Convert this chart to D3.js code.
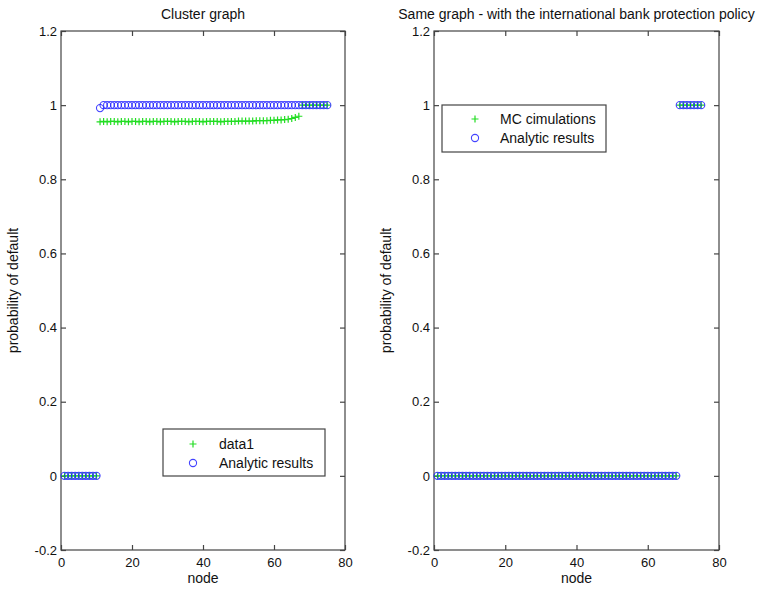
<!DOCTYPE html>
<html><head><meta charset="utf-8">
<script src="https://cdn.jsdelivr.net/npm/d3@7"></script>
<style>body{margin:0;background:#fff}svg{display:block}text{font-family:"Liberation Sans",Arial,Helvetica,sans-serif;fill:#111}</style>
</head><body><svg id="c" width="763" height="589"></svg>
<script>
const nodes = d3.range(1, 76);
// Left panel
const leftMC = [0,0,0,0,0,0,0,0,0,0,
  0.955,0.956,0.955,0.956,0.956,0.955,0.956,0.956,0.955,0.956,
  0.956,0.955,0.956,0.956,0.955,0.956,0.956,0.955,0.956,0.956,
  0.956,0.955,0.956,0.956,0.956,0.955,0.956,0.956,0.956,0.955,
  0.956,0.956,0.956,0.956,0.955,0.956,0.956,0.956,0.956,0.957,
  0.957,0.957,0.957,0.957,0.958,0.958,0.958,0.958,0.959,0.959,
  0.960,0.960,0.961,0.962,0.964,0.967,0.970,1,1,1,1,1,1,1,1];
const leftAnalytic = [0,0,0,0,0,0,0,0,0,0,0.992].concat(d3.range(64).map(()=>1));
// Right panel
const rightMC = d3.range(68).map(()=>0).concat(d3.range(7).map(()=>1));
const rightAnalytic = d3.range(68).map(()=>0).concat(d3.range(7).map(()=>1));
const xTicks = [0,20,40,60,80];
const yTicks = [-0.2,0,0.2,0.4,0.6,0.8,1,1.2];
const yTickLabels = ["-0.2","0","0.2","0.4","0.6","0.8","1","1.2"];

const panels = [
  {x0:61, x1:345, title:"Cluster graph", mc:leftMC, an:leftAnalytic,
   legend:{x:163, y:429, w:162, h:47, mx:193, tx:219, r1:444, r2:463}, mcName:"data1"},
  {x0:434, x1:719, title:"Same graph - with the international bank protection policy", mc:rightMC, an:rightAnalytic,
   legend:{x:442, y:105, w:164, h:47, mx:475, tx:500, r1:119, r2:138}, mcName:"MC cimulations"}
];
const yTop = 31, yBot = 550;
const svg = d3.select("#c");
const axisColor = "#444";

panels.forEach(p => {
  const x = d3.scaleLinear().domain([0,80]).range([p.x0, p.x1]);
  const y = d3.scaleLinear().domain([-0.2,1.2]).range([yBot, yTop]);
  const g = svg.append("g");
  g.append("rect").attr("x",p.x0).attr("y",yTop).attr("width",p.x1-p.x0).attr("height",yBot-yTop)
    .attr("fill","none").attr("stroke",axisColor).attr("stroke-width",1.2);
  const fmt = d=>String(d);
  const axB = g.append("g").attr("transform",`translate(0,${yBot})`)
    .call(d3.axisBottom(x).tickValues(xTicks).tickSize(-5).tickPadding(8).tickFormat(fmt));
  const axT = g.append("g").attr("transform",`translate(0,${yTop})`)
    .call(d3.axisTop(x).tickValues(xTicks).tickSize(-5).tickFormat(""));
  const axL = g.append("g").attr("transform",`translate(${p.x0},0)`)
    .call(d3.axisLeft(y).tickValues(yTicks).tickSize(-5).tickPadding(4).tickFormat((d,i)=>yTickLabels[i]));
  const axR = g.append("g").attr("transform",`translate(${p.x1},0)`)
    .call(d3.axisRight(y).tickValues(yTicks).tickSize(-5).tickFormat(""));
  [axB,axT,axL,axR].forEach(a=>{
    a.select(".domain").remove();
    a.selectAll(".tick line").attr("stroke",axisColor).attr("stroke-width",1.2);
    a.selectAll(".tick text").attr("font-size",13).attr("fill","#111")
      .style("font-family",'"Liberation Sans",Arial,sans-serif');
  });
  g.append("text").attr("x",(p.x0+p.x1)/2).attr("y",19).attr("text-anchor","middle").attr("font-size",14).text(p.title);
  g.append("text").attr("x",(p.x0+p.x1)/2).attr("y",583).attr("text-anchor","middle").attr("font-size",14).text("node");
  g.append("text").attr("transform",`translate(${p.x0-43},${(yTop+yBot)/2}) rotate(-90)`)
    .attr("text-anchor","middle").attr("font-size",14).text("probability of default");
  const plus = (sel, cx, cy, s) => sel.append("path")
    .attr("d",`M${cx-s},${cy}H${cx+s}M${cx},${cy-s}V${cy+s}`)
    .attr("stroke","#22dd22").attr("stroke-width",1.2).attr("fill","none");
  const circ = (sel, cx, cy) => sel.append("circle").attr("cx",cx).attr("cy",cy).attr("r",3.6)
    .attr("fill","none").attr("stroke","#2222ff").attr("stroke-width",1.1).attr("opacity",0.85);
  const dg = g.append("g");
  nodes.forEach((n,i)=>{ plus(dg, x(n), y(p.mc[i]), 3.5); });
  nodes.forEach((n,i)=>{ circ(dg, x(n), y(p.an[i])); });
  const L = p.legend;
  g.append("rect").attr("x",L.x).attr("y",L.y).attr("width",L.w).attr("height",L.h)
    .attr("fill","#fff").attr("stroke",axisColor).attr("stroke-width",1.2);
  plus(g, L.mx, L.r1, 3.5);
  circ(g, L.mx, L.r2);
  g.append("text").attr("x",L.tx).attr("y",L.r1+5).attr("font-size",14).text(p.mcName);
  g.append("text").attr("x",L.tx).attr("y",L.r2+5).attr("font-size",14).text("Analytic results");
});
</script></body></html>
